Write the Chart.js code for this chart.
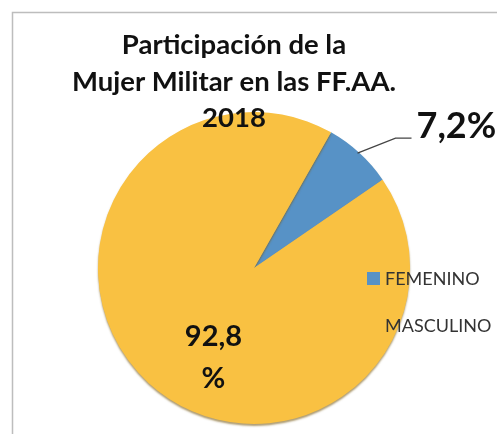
<!DOCTYPE html>
<html>
<head>
<meta charset="utf-8">
<script src="https://cdn.jsdelivr.net/npm/chart.js@4.4.0/dist/chart.umd.min.js"></script>
<style>
    html, body { margin: 0; padding: 0; background: #fff; overflow: hidden; }
    #wrap { position: relative; width: 497px; height: 434px; }
</style>
</head>
<body>
<div id="wrap"><canvas id="pieChart"></canvas></div>
<script>
const categories = ['FEMENINO', 'MASCULINO'];
const shares = [7.2, 92.8];
const sliceLabels = ['7,2%', '92,8\n%'];
const titleLines = ['Participación de la', 'Mujer Militar en las FF.AA.', '2018'];
const sliceColors = ['#5792c6', '#f9c142'];

const FONT = 'Lato, "Open Sans", sans-serif';

// frame, title, legend and slice labels drawn by hand
const decor = {
    id: 'decor',
    beforeDraw(chart) {
        const ctx = chart.ctx;
        ctx.save();
        ctx.strokeStyle = '#bdbdbd';
        ctx.lineWidth = 1.5;
        ctx.strokeRect(12.5, 12.5, 700, 700);
        ctx.restore();
    },
    beforeDatasetDraw(chart) {
        const ctx = chart.ctx;
        ctx.save();
        ctx.shadowColor = 'rgba(120, 90, 20, 0.6)';
        ctx.shadowOffsetY = 2;
        ctx.shadowBlur = 2;
    },
    afterDatasetDraw(chart) {
        chart.ctx.restore();
    },
    afterDraw(chart) {
        const ctx = chart.ctx;
        const arcs = chart.getDatasetMeta(0).data;
        ctx.save();

        // title
        ctx.fillStyle = '#111';
        ctx.font = 'bold 27.5px ' + FONT;
        ctx.textAlign = 'center';
        ctx.textBaseline = 'alphabetic';
        const baselines = [54, 91, 127];
        titleLines.forEach((t, i) => ctx.fillText(t, 234, baselines[i]));

        // small slice: leader line + label
        const a = arcs[0];
        const mid = (a.startAngle + a.endAngle) / 2;
        const sx = a.x + Math.cos(mid) * a.outerRadius;
        const sy = a.y + Math.sin(mid) * a.outerRadius;
        ctx.strokeStyle = '#444';
        ctx.lineWidth = 1.3;
        ctx.beginPath();
        ctx.moveTo(sx - 2, sy);
        ctx.lineTo(sx + 36, sy - 15);
        ctx.lineTo(sx + 52, sy - 15);
        ctx.stroke();
        ctx.fillStyle = '#111';
        ctx.font = 'bold 36px ' + FONT;
        ctx.textAlign = 'left';
        ctx.fillText(sliceLabels[0], sx + 57, sy - 15);

        // big slice label
        const b = arcs[1];
        ctx.font = 'bold 29px ' + FONT;
        ctx.textAlign = 'center';
        ctx.textBaseline = 'middle';
        const parts = sliceLabels[1].split('\n');
        const lx = b.x - b.outerRadius * 0.26;
        const ly = b.y + b.outerRadius * 0.44;
        parts.forEach((p, i) => ctx.fillText(p, lx, ly + i * 42));

        // legend
        ctx.font = '18px ' + FONT;
        ctx.textAlign = 'left';
        const legY = [278, 325];
        categories.forEach((c, i) => {
            ctx.fillStyle = sliceColors[i];
            ctx.fillRect(367, legY[i] - 6, 13, 13);
            ctx.fillStyle = '#333';
            ctx.fillText(c, 385, legY[i] + 1);
        });
        ctx.restore();
    }
};

const ctx = document.getElementById('pieChart').getContext('2d');
new Chart(ctx, {
    type: 'pie',
    data: {
        labels: categories,
        datasets: [{
            data: shares,
            backgroundColor: sliceColors,
            borderWidth: 0
        }]
    },
    options: {
        responsive: true,
        maintainAspectRatio: false,
        animation: false,
        rotation: 29.6,
        layout: { padding: { left: 98, right: 87, top: 112, bottom: 10 } },
        plugins: {
            legend: { display: false },
            title: { display: false },
            tooltip: { enabled: false }
        }
    },
    plugins: [decor]
});
</script>
</body>
</html>
